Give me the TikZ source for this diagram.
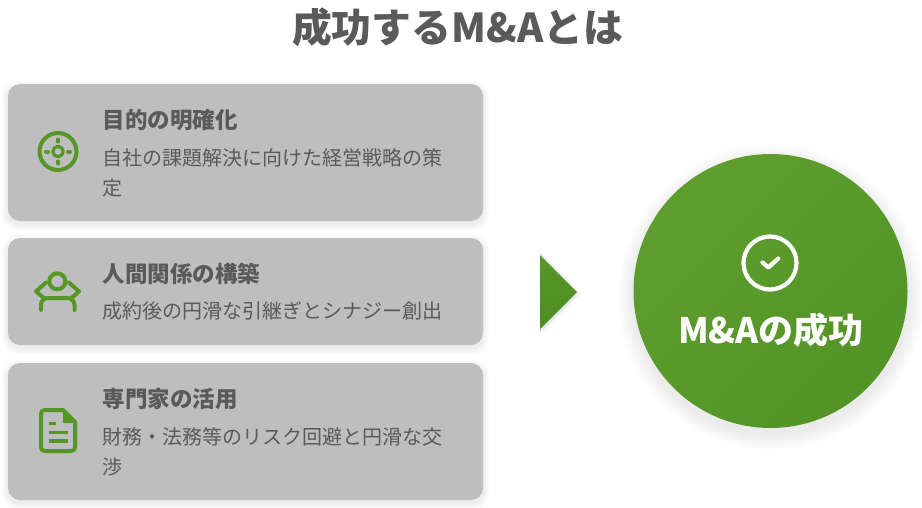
\documentclass[tikz,border=0pt]{standalone}
\usepackage{fontspec}
\setmainfont{Noto Sans CJK JP}
\usetikzlibrary{positioning}
\definecolor{leaf}{HTML}{559626}
\definecolor{leaftop}{HTML}{5F9D2D}
\definecolor{leafend}{HTML}{539427}
\definecolor{arrowtop}{HTML}{579728}
\definecolor{arrowend}{HTML}{4E8E22}
\definecolor{cardgray}{HTML}{BEBEBE}
\definecolor{inkgray}{HTML}{5A5A5A}
\tikzset{
  cardbox/.style={fill=cardgray,rounded corners=12pt,minimum width=475pt,inner sep=0pt},
  cardhead/.style={anchor=west,inner sep=0pt,text=inkgray,font=\fontsize{22.5}{26}\selectfont\bfseries},
  cardtext/.style={anchor=west,inner sep=0pt,text=inkgray,align=left,font=\fontsize{20}{29.5}\selectfont},
  iconline/.style={draw=leaf,line width=4pt,line cap=round,line join=round},
  tickline/.style={draw=white,line width=4.2pt,line cap=round,line join=round}
}
\begin{document}
\begin{tikzpicture}[x=1pt,y=-1pt]
\useasboundingbox [fill=white] (0,0) rectangle (922,507);

\node (title) at (457.5,27) [inkgray,inner sep=0pt,font=\fontsize{39.8}{46}\selectfont\bfseries]{成功するM\&Aとは};

\foreach \nm/\cy/\ch in {cardA/152.5/137,cardB/291.5/107,cardC/431.5/137}{
  \foreach \gr in {1,...,6}{
    \fill [black,opacity=0.012,rounded corners=14pt] (8-\gr,\cy-\ch/2+3-\gr) rectangle (483+\gr,\cy+\ch/2+3+\gr);
  }
  \node (\nm) at (245.5,\cy) [cardbox,minimum height=\ch pt]{};
}

\node (headA) at (102.5,120) [cardhead]{目的の明確化};
\node (textA) at (102,173) [cardtext]{自社の課題解決に向けた経営戦略の策\\定};
\node (headB) at (102.5,274) [cardhead]{人間関係の構築};
\node (textB) at (102,311) [cardtext]{成約後の円滑な引継ぎとシナジー創出};
\node (headC) at (102.5,399) [cardhead]{専門家の活用};
\node (textC) at (102,452) [cardtext]{財務・法務等のリスク回避と円滑な交\\渉};

\draw [iconline] (58,151.5) circle[radius=18.5];
\draw [iconline,line width=3.2pt] (58,151.5) circle[radius=5.2];
\draw [iconline] (58,139.5) -- (58,141.5);
\draw [iconline] (58,161.5) -- (58,163.5);
\draw [iconline] (46,151.5) -- (48,151.5);
\draw [iconline] (68,151.5) -- (70,151.5);

\draw [iconline] (57.3,281.3) circle[radius=8];
\draw [iconline] (46,282.5) -- (36,291.5) -- (44.5,298.5);
\draw [iconline] (69,282.5) -- (79,291.5) -- (71,298.5);
\draw [iconline] (41,310) -- (41,305) .. controls (41,300.5) and (44,298) .. (48.5,298) -- (66.5,298) .. controls (71,298) and (74.5,300.5) .. (74.5,305) -- (74.5,310);

\draw [iconline] (63,410) -- (45,410) .. controls (42,410) and (41,411) .. (41,414) -- (41,447) .. controls (41,450) and (42,451) .. (45,451) -- (71,451) .. controls (74,451) and (75,450) .. (75,447) -- (75,422) -- cycle;
\fill [leaf] (63,412) -- (73,423) -- (63,423) -- cycle;
\draw [iconline,line cap=butt,line width=3.2pt] (49,423.5) -- (55.5,423.5);
\draw [iconline,line cap=butt,line width=3.2pt] (49,432.5) -- (68,432.5);
\draw [iconline,line cap=butt,line width=3.2pt] (49,441) -- (68,441);

\foreach \gr in {1,...,4}{
  \fill [black,opacity=0.025] (540,255-\gr) -- (577+\gr,294) -- (540,331+\gr) -- cycle;
}
\shade [top color=arrowtop,bottom color=arrowend] (540,255) -- (577,292) -- (540,329) -- cycle;

\foreach \gr in {1,...,10}{
  \fill [black,opacity=0.008] (771,297) circle[radius=137+\gr*1.6];
}
\node (goal) at (770.5,291) [circle,minimum size=274pt,inner sep=0pt,shading=axis,left color=leaftop,right color=leafend,shading angle=45]{};
\draw [tickline] (770,263) circle[radius=26.5];
\draw [tickline] (762.5,262.5) -- (768.3,267.5) -- (778.3,258.5);
\node (goaltext) at (771,330) [text=white,inner sep=0pt,font=\fontsize{35}{40}\selectfont\bfseries]{M\&Aの成功};
\end{tikzpicture}
\end{document}
